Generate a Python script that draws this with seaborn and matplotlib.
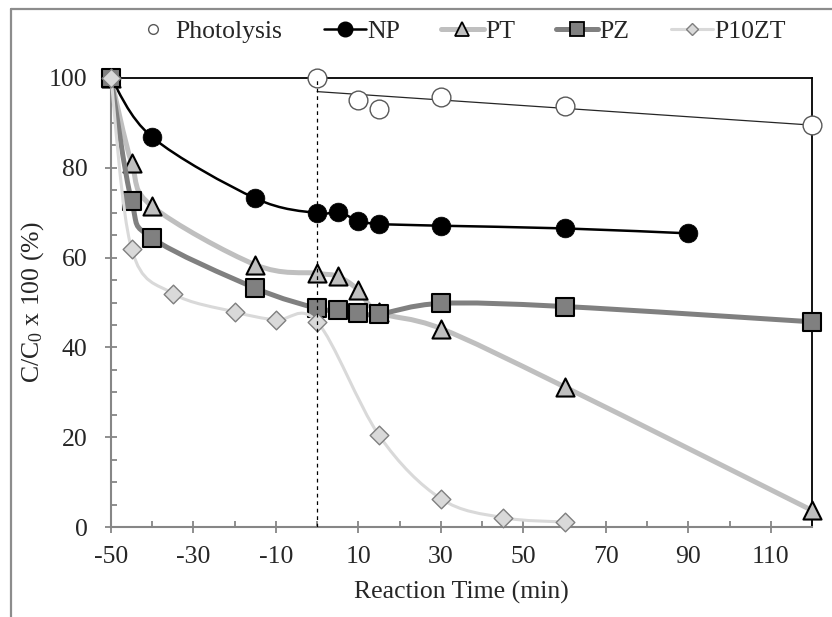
import numpy as np
import matplotlib
matplotlib.use("Agg")
import matplotlib.pyplot as plt
from matplotlib.path import Path
from matplotlib.patches import PathPatch
from matplotlib.lines import Line2D
from matplotlib.ticker import MultipleLocator, FixedLocator
import seaborn as sns

# ---------------- data ----------------
series_names = ["Photolysis", "NP", "PT", "PZ", "P10ZT"]

photo_x = [0, 10, 15, 30, 60, 120]
photo_y = [100, 95.2, 93.0, 95.7, 93.7, 89.6]

np_x = [-50, -40, -15, 0, 5, 10, 15, 30, 60, 90]
np_y = [100, 86.8, 73.2, 69.9, 70.2, 68.2, 67.5, 67.1, 66.5, 65.4]

pt_x = [-50, -45, -40, -15, 0, 5, 10, 15, 30, 60, 120]
pt_y = [100, 81.0, 71.4, 58.4, 56.5, 55.8, 52.8, 47.8, 44.2, 31.2, 3.7]

pz_x = [-50, -45, -40, -15, 0, 5, 10, 15, 30, 60, 120]
pz_y = [100, 72.5, 64.3, 53.2, 48.7, 48.3, 47.6, 47.4, 49.8, 49.1, 45.7]

zt_x = [-50, -45, -35, -20, -10, 0, 15, 30, 45, 60]
zt_y = [100, 61.9, 52.0, 47.9, 46.1, 45.7, 20.4, 6.3, 2.1, 1.1]

x_ticks = [-50, -30, -10, 10, 30, 50, 70, 90, 110]
y_ticks = [0, 20, 40, 60, 80, 100]
x_label = "Reaction Time (min)"
y_label = "C/C$_0$ x 100 (%)"

# ---------------- style ----------------
sns.set_style("white")
plt.rcParams["font.family"] = ["Liberation Serif", "DejaVu Serif"]
plt.rcParams["mathtext.default"] = "regular"
plt.rcParams["axes.unicode_minus"] = False
FS = 18.5

fig = plt.figure(figsize=(8.32, 6.17), dpi=100)
ax = fig.add_axes([111 / 832, 1 - 527 / 617, (812 - 111) / 832, (527 - 78) / 617])
ax.set_xlim(-50, 120)
ax.set_ylim(0, 100)


def smooth_path(xs, ys):
    P = np.column_stack([xs, ys]).astype(float)
    n = len(P)
    verts = [P[0]]
    codes = [Path.MOVETO]
    for i in range(n - 1):
        p0 = P[i - 1] if i > 0 else P[i]
        p1 = P[i]
        p2 = P[i + 1]
        p3 = P[i + 2] if i + 2 < n else P[i + 1]
        verts += [p1 + (p2 - p0) / 6.0, p2 - (p3 - p1) / 6.0, p2]
        codes += [Path.CURVE4] * 3
    return Path(verts, codes)


def draw_smooth(xs, ys, color, lw, z):
    patch = PathPatch(smooth_path(xs, ys), fill=False, edgecolor=color, lw=lw,
                      capstyle="round", joinstyle="round", zorder=z, clip_on=False)
    ax.add_patch(patch)


# Photolysis: open circles + linear trend line
slope, inter = np.polyfit(photo_x, photo_y, 1)
tx = [min(photo_x), max(photo_x)]
sns.lineplot(x=tx, y=[slope * v + inter for v in tx], color="#262626", lw=0.9,
             ax=ax, zorder=2, legend=False)
sns.scatterplot(x=photo_x, y=photo_y, marker="o", s=13.5 ** 2, color="white",
                edgecolor="#595959", linewidth=1.0, ax=ax, zorder=3, clip_on=False, legend=False)

# NP
draw_smooth(np_x, np_y, "black", 1.8, 4)
sns.scatterplot(x=np_x, y=np_y, marker="o", s=13.5 ** 2, color="black",
                edgecolor="black", linewidth=0.5, ax=ax, zorder=5, clip_on=False, legend=False)

# PT
draw_smooth(pt_x, pt_y, "#BFBFBF", 3.6, 6)
sns.scatterplot(x=pt_x, y=pt_y, marker="^", s=13 ** 2, color="#BFBFBF",
                edgecolor="black", linewidth=1.5, ax=ax, zorder=7, clip_on=False, legend=False)

# PZ
draw_smooth(pz_x, pz_y, "#808080", 3.6, 8)
sns.scatterplot(x=pz_x, y=pz_y, marker="s", s=13.5 ** 2, color="#808080",
                edgecolor="black", linewidth=1.5, ax=ax, zorder=9, clip_on=False, legend=False)

# P10ZT
draw_smooth(zt_x, zt_y, "#D9D9D9", 2.2, 10)
sns.scatterplot(x=zt_x, y=zt_y, marker="D", s=9.5 ** 2, color="#D9D9D9",
                edgecolor="#7F7F7F", linewidth=1.0, ax=ax, zorder=11, clip_on=False, legend=False)

# dashed line at t = 0
ax.axvline(0, ymin=0, ymax=1, color="black", lw=0.9, ls=(0, (3, 3)), zorder=12)

# ---------------- axes styling ----------------
for s in ["left", "bottom"]:
    ax.spines[s].set_color("#868686")
    ax.spines[s].set_linewidth(1.5)
for s in ["top", "right"]:
    ax.spines[s].set_color("black")
    ax.spines[s].set_linewidth(1.3)
    ax.spines[s].set_zorder(2.5)

ax.xaxis.set_major_locator(FixedLocator(x_ticks))
ax.yaxis.set_major_locator(FixedLocator(y_ticks))
ax.xaxis.set_minor_locator(MultipleLocator(10))
ax.yaxis.set_minor_locator(MultipleLocator(5))
ax.tick_params(which="major", direction="inout", length=8, width=1.3, color="#868686",
               labelsize=FS, bottom=True, left=True, top=False, right=False)
ax.tick_params(axis="y", which="major", pad=13)
ax.tick_params(axis="x", which="major", pad=10)
ax.tick_params(which="minor", direction="in", length=4, width=1.3, color="#868686",
               bottom=True, left=True, top=False, right=False)

ax.set_xlabel(x_label, fontsize=FS, labelpad=9)
ax.set_ylabel(y_label, fontsize=FS, labelpad=2)

# ---------------- legend ----------------
handles = [
    Line2D([], [], ls="none", marker="o", ms=7, mfc="white", mec="#595959", mew=1.0),
    Line2D([], [], color="black", lw=1.8, marker="o", ms=10.5, mfc="black", mec="black"),
    Line2D([], [], color="#BFBFBF", lw=3.6, marker="^", ms=9.5, mfc="#BFBFBF", mec="black", mew=1.3),
    Line2D([], [], color="#808080", lw=3.6, marker="s", ms=10.5, mfc="#808080", mec="black", mew=1.3),
    Line2D([], [], color="#D9D9D9", lw=2.2, marker="D", ms=6.5, mfc="#D9D9D9", mec="#7F7F7F", mew=1.0),
]
fig.legend(handles, series_names, loc="center", bbox_to_anchor=(459 / 832, 1 - 32 / 617),
           ncol=5, frameon=False, fontsize=FS, handlelength=1.65, handletextpad=0.05,
           columnspacing=1.6, borderpad=0.1)

# figure border (top & left visible in reference)
fig.add_artist(Line2D([11 / 832, 1], [1 - 9 / 617, 1 - 9 / 617], transform=fig.transFigure,
                      color="#8C8C8C", lw=1.6))
fig.add_artist(Line2D([11 / 832, 11 / 832], [0, 1 - 9 / 617], transform=fig.transFigure,
                      color="#8C8C8C", lw=1.6))

fig.savefig("out.png", dpi=100)
